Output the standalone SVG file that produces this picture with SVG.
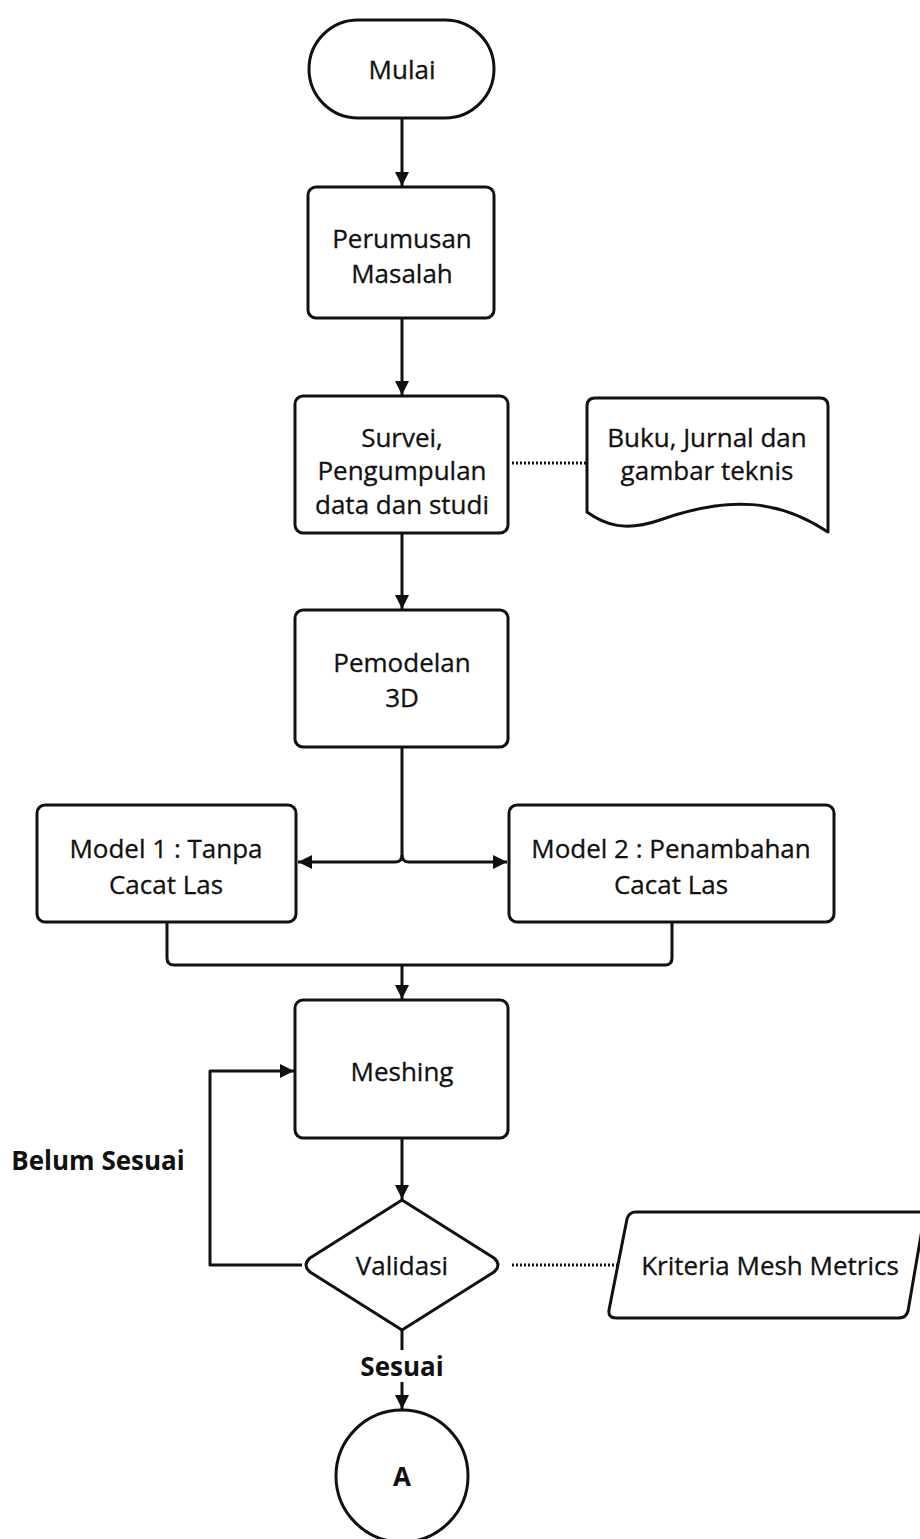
<svg xmlns="http://www.w3.org/2000/svg" width="920" height="1539" viewBox="0 0 920 1539">
<style>
.s{fill:#fff;stroke:#111;stroke-width:3;stroke-linejoin:round}
.c{fill:none;stroke:#111;stroke-width:3;stroke-linejoin:round}
.d{fill:none;stroke:#111;stroke-width:3;stroke-dasharray:2 2}
.t{font-family:"Open Sans","Noto Sans",sans-serif;font-size:26px;fill:#111;stroke:#111;stroke-width:0.3;text-anchor:middle;dominant-baseline:central}
.b{font-family:"Open Sans","Noto Sans",sans-serif;font-size:26px;font-weight:bold;fill:#111;text-anchor:middle;dominant-baseline:central}
</style>
<defs>
<marker id="ah" markerUnits="userSpaceOnUse" markerWidth="16" markerHeight="16" refX="14" refY="8" orient="auto">
<path d="M0,1 L14,8 L0,15 z" fill="#111"/>
</marker>
</defs>
<g id="connectors">
<path class="c" d="M402,118 V186" marker-end="url(#ah)"/>
<path class="c" d="M402,318 V395" marker-end="url(#ah)"/>
<path class="c" d="M402,533 V609" marker-end="url(#ah)"/>
<path class="d" d="M512,463 H586"/>
<path class="c" d="M402,747 V855 Q402,862 395,862 H298" marker-end="url(#ah)"/>
<path class="c" d="M402,855 Q402,862 409,862 H507" marker-end="url(#ah)"/>
<path class="c" d="M167,922 V958 Q167,965 174,965 H665 Q672,965 672,958 V922"/>
<path class="c" d="M402,965 V999" marker-end="url(#ah)"/>
<path class="c" d="M402,1138 V1199" marker-end="url(#ah)"/>
<path class="c" d="M302,1265 H210 V1071 H294" marker-end="url(#ah)"/>
<path class="d" d="M512,1265 H620"/>
<path class="c" d="M402,1330 V1350"/>
<path class="c" d="M402,1382 V1409" marker-end="url(#ah)"/>
</g>
<g id="mulai">
<rect class="s" x="309" y="20" width="185" height="98" rx="49" ry="49"/>
<text class="t" x="402" y="69">Mulai</text>
</g>
<g id="perumusan">
<rect class="s" x="308" y="187" width="186" height="131" rx="8"/>
<text class="t" x="402" y="238">Perumusan</text>
<text class="t" x="402" y="273">Masalah</text>
</g>
<g id="survei">
<rect class="s" x="295" y="396" width="213" height="137" rx="8"/>
<text class="t" x="402" y="437">Survei,</text>
<text class="t" x="402" y="470">Pengumpulan</text>
<text class="t" x="402" y="504">data dan studi</text>
</g>
<g id="buku">
<path class="s" d="M595,398 H820 Q828,398 828,406 V532 C780,500 730,495 660,520 C625,532 605,525 587,512 V406 Q587,398 595,398 Z"/>
<text class="t" x="707" y="437">Buku, Jurnal dan</text>
<text class="t" x="707" y="470">gambar teknis</text>
</g>
<g id="pemodelan">
<rect class="s" x="295" y="610" width="213" height="137" rx="8"/>
<text class="t" x="402" y="662">Pemodelan</text>
<text class="t" x="402" y="697">3D</text>
</g>
<g id="model1">
<rect class="s" x="37" y="805" width="259" height="117" rx="8"/>
<text class="t" x="166" y="848">Model 1 : Tanpa</text>
<text class="t" x="166" y="884">Cacat Las</text>
</g>
<g id="model2">
<rect class="s" x="509" y="805" width="325" height="117" rx="8"/>
<text class="t" x="671" y="848">Model 2 : Penambahan</text>
<text class="t" x="671" y="884">Cacat Las</text>
</g>
<g id="meshing">
<rect class="s" x="295" y="1000" width="213" height="138" rx="8"/>
<text class="t" x="402" y="1071">Meshing</text>
</g>
<g id="validasi">
<path class="s" d="M402,1200 L494,1258 Q502,1265 494,1272 L402,1330 L310,1272 Q302,1265 310,1258 Z"/>
<text class="t" x="402" y="1265">Validasi</text>
</g>
<g id="kriteria">
<path class="s" d="M636,1212 H925 L908,1311 Q906,1318 899,1318 H616 Q608,1318 609,1310 L627,1219 Q629,1212 636,1212 Z"/>
<text class="t" x="770" y="1265">Kriteria Mesh Metrics</text>
</g>
<g id="labels">
<text class="b" x="98" y="1160">Belum Sesuai</text>
<text class="b" x="402" y="1366">Sesuai</text>
</g>
<g id="a">
<circle class="s" cx="402" cy="1476" r="66"/>
<text class="b" x="402" y="1476">A</text>
</g>
</svg>
